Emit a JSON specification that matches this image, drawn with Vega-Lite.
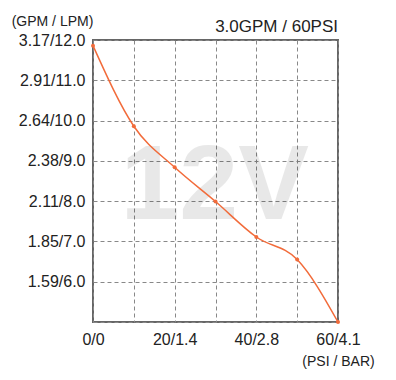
{
  "$schema": "https://vega.github.io/schema/vega-lite/v6.json",
  "width": 245,
  "height": 282,
  "autosize": {"type": "none"},
  "padding": {"left": 93, "top": 40, "right": 58, "bottom": 58},
  "background": "white",
  "title": {"text": "3.0GPM / 60PSI", "anchor": "end", "frame": "group", "fontSize": 17, "fontWeight": "normal", "font": "Liberation Sans", "color": "#222", "offset": 9, "dy": 31},
  "config": {"view": {"stroke": "#666", "strokeWidth": 2}, "font": "Liberation Sans"},
  "encoding": {
    "x": {"field": "psi", "type": "quantitative", "scale": {"domain": [0, 60], "nice": false, "zero": false},
      "axis": {"values": [0, 10, 20, 30, 40, 50, 60], "labelExpr": "datum.value==0?'0/0':datum.value==20?'20/1.4':datum.value==40?'40/2.8':datum.value==60?'60/4.1':''",
        "labelFontSize": 16, "labelColor": "#222", "labelPadding": 9, "labelFlush": false, "ticks": false, "domain": false,
        "grid": true, "gridColor": "#888", "gridDash": [4, 3], "gridWidth": 1,
        "title": "(PSI / BAR)", "titleFontSize": 14, "titleFontWeight": "normal", "titleColor": "#222", "titleX": 245, "titleY": 39, "titleAlign": "center", "titleBaseline": "middle"}},
    "y": {"field": "lpm", "type": "quantitative", "scale": {"domain": [5, 12], "nice": false, "zero": false},
      "axis": {"values": [5, 6, 7, 8, 9, 10, 11, 12], "labelExpr": "datum.value==5?'':format(datum.value/3.785,'.2f')+'/'+format(datum.value,'.1f')",
        "labelFontSize": 16, "labelColor": "#222", "labelPadding": 8, "labelFlush": false, "ticks": false, "domain": false,
        "grid": true, "gridColor": "#888", "gridDash": [4, 3], "gridWidth": 1,
        "title": "(GPM / LPM)", "titleAngle": 0, "titleFontSize": 14, "titleFontWeight": "normal", "titleColor": "#222", "titleX": -41, "titleY": -19, "titleAlign": "center", "titleBaseline": "middle"}}
  },
  "layer": [
    {
      "data": {"values": [{"label": "12V", "psi": 29.8, "lpm": 7.55}]},
      "mark": {"type": "text", "fontSize": 106, "fontWeight": "bold", "color": "#000", "opacity": 0.085, "baseline": "alphabetic", "align": "center", "font": "Liberation Sans"},
      "encoding": {"text": {"field": "label"}}
    },
    {
      "data": {"values": [
        {"psi": 0, "lpm": 11.86},
        {"psi": 10, "lpm": 9.86},
        {"psi": 20, "lpm": 8.84},
        {"psi": 30, "lpm": 7.99},
        {"psi": 40, "lpm": 7.11},
        {"psi": 50, "lpm": 6.55},
        {"psi": 60, "lpm": 5.0}
      ]},
      "mark": {"type": "line", "interpolate": "monotone", "color": "#f26b3a", "strokeWidth": 1.5, "point": {"filled": true, "size": 16, "color": "#f26b3a", "opacity": 1}}
    }
  ]
}
